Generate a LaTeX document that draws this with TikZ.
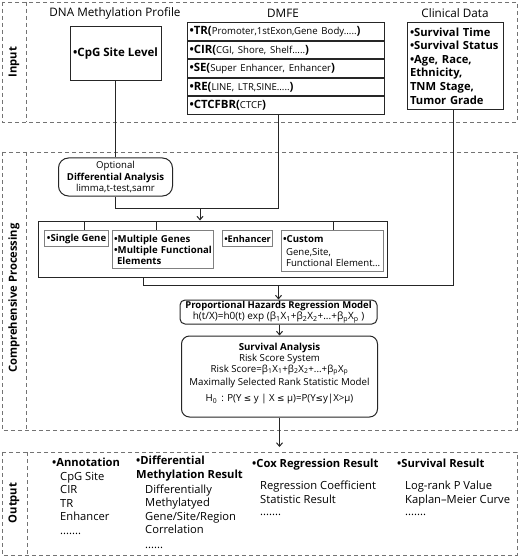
\documentclass[tikz,border=0pt]{standalone}
\usepackage{fontspec}
\setmainfont{Open Sans}
\newfontfamily\dvfont{DejaVu Sans}
\usetikzlibrary{arrows.meta}
\newcommand\ssub[1]{\textsubscript{#1}}
\newcommand\lle{{\dvfont\fontsize{8.8}{10}\selectfont ≤}}
\newcommand\rowsmall{\mdseries\fontsize{9.6}{11}\selectfont}
\newcommand\rowbig{\bfseries\fontsize{11.4}{13}\selectfont}
\begin{document}
\begin{tikzpicture}[x=1pt,y=-1pt,
  sect/.style={draw=black!55, dash pattern=on 4pt off 3pt, line width=0.8pt},
  box/.style={draw=black!85, line width=1pt, inner sep=0pt},
  ibox/.style={draw=black!50, line width=1.2pt, inner sep=1.5pt, align=left, anchor=north west, font=\fontsize{9.6}{11}\selectfont},
  conn/.style={draw=black!85, line width=1pt},
  arr/.style={conn, -{Straight Barb[length=3.5pt,width=6pt]}},
  hdr/.style={font=\fontsize{11.7}{13}\selectfont},
  seclab/.style={rotate=90, font=\bfseries\fontsize{11.2}{13}\selectfont},
  row/.style={box, minimum width=197pt, minimum height=17.6pt, text width=192pt, align=left, anchor=north, inner sep=0pt, font=\rowbig},
  outtxt/.style={anchor=north west, align=left, inner sep=0pt, font=\fontsize{11.2}{13.5}\selectfont}
]
\useasboundingbox (0,0) rectangle (520,556);
\fill[white] (0,0) rectangle (520,556);

% ---- sections
\draw[sect] (2,2) rectangle (517,122);
\draw[sect] (26,2) -- (26,122);
\draw[sect] (2,152) rectangle (517,430);
\draw[sect] (26,152) -- (26,430);
\draw[sect] (2,452) rectangle (517,555);
\draw[sect] (27,452) -- (27,555);
\node[seclab] (lin) at (14,62) {Input};
\node[seclab] (lproc) at (14,298) {Comprehensive Processing};
\node[seclab] (lout) at (14,503) {Output};

% ---- input
\node[hdr] (h1) at (115,13) {DNA Methylation Profile};
\node[hdr] (h2) at (283,13) {DMFE};
\node[hdr] (h3) at (455,13) {Clinical Data};

\node[box, minimum width=91pt, minimum height=54pt, font=\bfseries\fontsize{11.5}{13}\selectfont] (cpg) at (115.5,54) {•CpG Site Level};

\node[row] (tr) at (285.5,22) {•TR(\rowsmall Promoter,1stExon,Gene Body.....\rowbig)};
\node[row] (cir) at (tr.south) {•CIR(\rowsmall CGI, Shore, Shelf.....\rowbig)};
\node[row] (se) at (cir.south) {•SE(\rowsmall Super Enhancer, Enhancer\rowbig)};
\node[row] (re) at (se.south) {•RE(\rowsmall LINE, LTR,SINE.....\rowbig)};
\node[row] (ctcf) at (re.south) {•CTCFBR(\rowsmall CTCF\rowbig)};

\node[box, minimum width=96pt, minimum height=87pt, anchor=north west, text width=91pt, align=left, font=\bfseries\fontsize{11.2}{13.6}\selectfont] (clin) at (407,22) {•Survival Time\\•Survival Status\\•Age, Race,\\Ethnicity,\\TNM Stage,\\Tumor Grade};

% ---- processing
\node[box, rounded corners=10pt, minimum width=114pt, minimum height=38pt, align=center, font=\fontsize{9.6}{11.6}\selectfont] (diff) at (115.5,177) {Optional\\\textbf{Differential Analysis}\\limma,t-test,samr};

\node[box, minimum width=349pt, minimum height=56pt] (big) at (212.5,249) {};
\node[ibox, minimum width=64pt, minimum height=16pt] (single) at (44,230) {\textbf{•Single Gene}};
\node[ibox, minimum width=101pt, minimum height=38pt, text width=98pt] (multi) at (112,230) {\textbf{•Multiple Genes}\\\textbf{•Multiple Functional}\\\hspace*{3pt}\textbf{Elements}};
\node[ibox, minimum width=50pt, minimum height=16pt, font=\fontsize{9.2}{11}\selectfont] (enh) at (222,230) {\textbf{•Enhancer}};
\node[ibox, minimum width=102pt, minimum height=41pt, text width=99pt] (cust) at (281,230) {\textbf{•Custom}\\[1.5pt]\hspace*{3pt}Gene,Site,\\\hspace*{3pt}Functional Element...};

\draw[conn] ([xshift=8pt]single.north) -- ([xshift=8pt]single.north |- big.north);
\draw[conn] ([xshift=-6.5pt]multi.north) -- ([xshift=-6.5pt]multi.north |- big.north);
\draw[conn] ([xshift=1pt]cust.north) -- ([xshift=1pt]cust.north |- big.north);

\coordinate (j1) at (115.5,208);
\coordinate (j2) at (278,208);
\coordinate (ja) at (200,208);
\draw[conn] (cpg) -- (diff);
\draw[conn] (diff.south) -- (j1) -- (j2) -- (ctcf.south -| j2);
\draw[arr] (ja) -- (ja |- big.north);

\node[box, rounded corners=5pt, minimum width=197pt, minimum height=24pt, align=center, font=\fontsize{9.5}{11}\selectfont] (prop) at (278.5,312) {\textbf{Proportional Hazards Regression Model}\\{\fontsize{10}{11}\selectfont h(t/X)=h0(t) exp (β\ssub{1}X\ssub{1}+β\ssub{2}X\ssub{2}+...+β\ssub{p}X\ssub{p} )}};

\coordinate (k1) at (143,285);
\coordinate (k2) at (453.5,285);
\coordinate (k3) at (278.5,285);
\draw[conn] (big.south -| k1) -- (k1) -- (k2) -- (clin.south -| k2);
\draw[arr] (k3) -- (prop.north);

\node[box, rounded corners=8pt, minimum width=196pt, minimum height=81pt, align=center, font=\fontsize{9.7}{10.8}\selectfont] (surv) at (279.5,376.5) {\textbf{Survival Analysis}\\Risk Score System\\Risk Score=β\ssub{1}X\ssub{1}+β\ssub{2}X\ssub{2}+...+β\ssub{p}X\ssub{p}\\[2pt]Maximally Selected Rank Statistic Model\\[6pt]H\ssub{0} \,: P(Y \lle{} y | X \lle{} μ)=P(Y\lle y|X>μ)\\[-3pt]\mbox{}};

\draw[arr] (prop.south -| surv.north) -- (surv.north);
\coordinate (oa) at (279.5,447);
\draw[arr] (surv.south) -- (oa);

% ---- output
\node[outtxt] (o1) at (52,458) {\textbf{•Annotation}\\\hspace*{8pt}CpG Site\\\hspace*{8pt}CIR\\\hspace*{8pt}TR\\\hspace*{8pt}Enhancer\\\hspace*{8pt}.......};
\node[outtxt] (o2) at (136,456) {\textbf{•Differential}\\\textbf{Methylation Result}\\[1.5pt]\hspace*{9pt}Differentially\\\hspace*{9pt}Methylatyed\\\hspace*{9pt}Gene/Site/Region\\\hspace*{9pt}Correlation\\[1pt]\hspace*{9pt}......};
\node[outtxt] (o3) at (252,459) {\textbf{•Cox Regression Result}\\[8.5pt]\hspace*{8pt}Regression Coefficient\\\hspace*{8pt}Statistic Result\\[-1pt]\hspace*{8pt}.......};
\node[outtxt] (o4) at (397,459) {\textbf{•Survival Result}\\[8.5pt]\hspace*{8pt}Log-rank P Value\\\hspace*{8pt}Kaplan–Meier Curve\\[-1pt]\hspace*{8pt}.......};
\end{tikzpicture}
\end{document}
